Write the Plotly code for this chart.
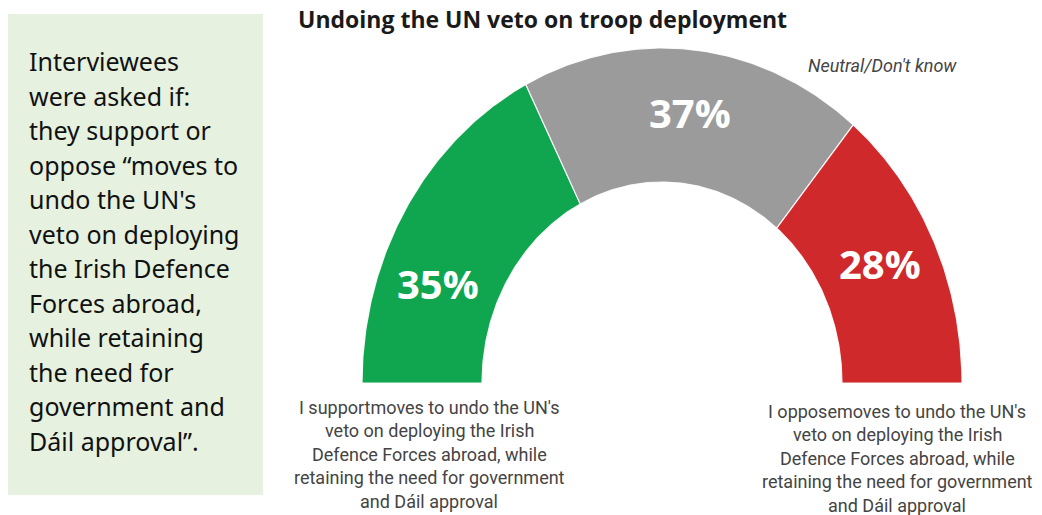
import numpy as np
import plotly.graph_objects as go

# ---- data ----
categories = ["Support", "Neutral/Don't know", "Oppose"]
values = [35, 37, 28]
colors = ["#10A64F", "#9B9B9B", "#D0292B"]
value_labels = ["35%", "37%", "28%"]

title_text = "Undoing the UN veto on troop deployment"
box_lines = [
    "Interviewees", "were asked if:", "they support or", "oppose \u201cmoves to",
    "undo the UN's", "veto on deploying", "the Irish Defence", "Forces abroad,",
    "while retaining", "the need for", "government and", "D\u00e1il approval\u201d.",
]
support_lines = ["I supportmoves to undo the UN's", "veto on deploying the Irish",
                 "Defence Forces abroad, while", "retaining the need for government",
                 "and D\u00e1il approval"]
oppose_lines = ["I opposemoves to undo the UN's", "veto on deploying the Irish",
                "Defence Forces abroad, while", "retaining the need for government",
                "and D\u00e1il approval"]
neutral_text = "Neutral/Don't know"

# ---- geometry (pixel-like axis space) ----
W, H = 1042, 515
cx, cy = 662, 383
rx, ry = 300, 335
inner = 0.6
label_pos = [(438, 283), (690, 112), (880, 263)]

fig = go.Figure()

total = sum(values)
start = 0.0
for cat, v, col in zip(categories, values, colors):
    a0 = np.pi * start / total
    a1 = np.pi * (start + v) / total
    t = np.linspace(a0, a1, 120)
    xo = cx - rx * np.cos(t)
    yo = cy - ry * np.sin(t)
    xi = cx - rx * inner * np.cos(t[::-1])
    yi = cy - ry * inner * np.sin(t[::-1])
    xs = np.concatenate([xo, xi, xo[:1]])
    ys = np.concatenate([yo, yi, yo[:1]])
    fig.add_trace(go.Scatter(x=xs, y=ys, fill="toself", fillcolor=col, mode="lines",
                             line=dict(color="rgba(255,255,255,0.9)", width=1.2),
                             name=cat, hoverinfo="name", showlegend=False))
    start += v

annotations = []
for (lx, ly), txt in zip(label_pos, value_labels):
    annotations.append(dict(x=lx, y=ly, text=f"<b>{txt}</b>", showarrow=False,
                            font=dict(family="Open Sans", size=40, color="white"),
                            xanchor="center", yanchor="middle"))

annotations.append(dict(x=542, y=19, text=f"<b>{title_text}</b>", showarrow=False,
                        font=dict(family="Open Sans", size=23, color="#1a1a1a"),
                        xanchor="center", yanchor="middle"))
annotations.append(dict(x=882, y=65, text=f"<i>{neutral_text}</i>", showarrow=False,
                        font=dict(family="Roboto", size=18, color="#444444"),
                        xanchor="center", yanchor="middle"))

for i, line in enumerate(support_lines):
    annotations.append(dict(x=429, y=407 + 23.5 * i, text=line, showarrow=False,
                            font=dict(family="Roboto", size=18, color="#444444"),
                            xanchor="center", yanchor="middle"))
for i, line in enumerate(oppose_lines):
    annotations.append(dict(x=897, y=411 + 23.5 * i, text=line, showarrow=False,
                            font=dict(family="Roboto", size=18, color="#444444"),
                            xanchor="center", yanchor="middle"))

for i, line in enumerate(box_lines):
    annotations.append(dict(x=27, y=61 + 34.5 * i, text=line, showarrow=False,
                            font=dict(family="Noto Sans", size=25, color="#111111"),
                            xanchor="left", yanchor="middle"))

fig.update_layout(
    width=W, height=H,
    margin=dict(l=0, r=0, t=0, b=0),
    paper_bgcolor="white", plot_bgcolor="white",
    xaxis=dict(range=[0, W], visible=False, fixedrange=True),
    yaxis=dict(range=[H, 0], visible=False, fixedrange=True),
    shapes=[dict(type="rect", x0=8, x1=263, y0=14, y1=495, fillcolor="#E6F1E0",
                 line=dict(width=0), layer="below")],
    annotations=annotations,
)

fig.write_html("out.html")
